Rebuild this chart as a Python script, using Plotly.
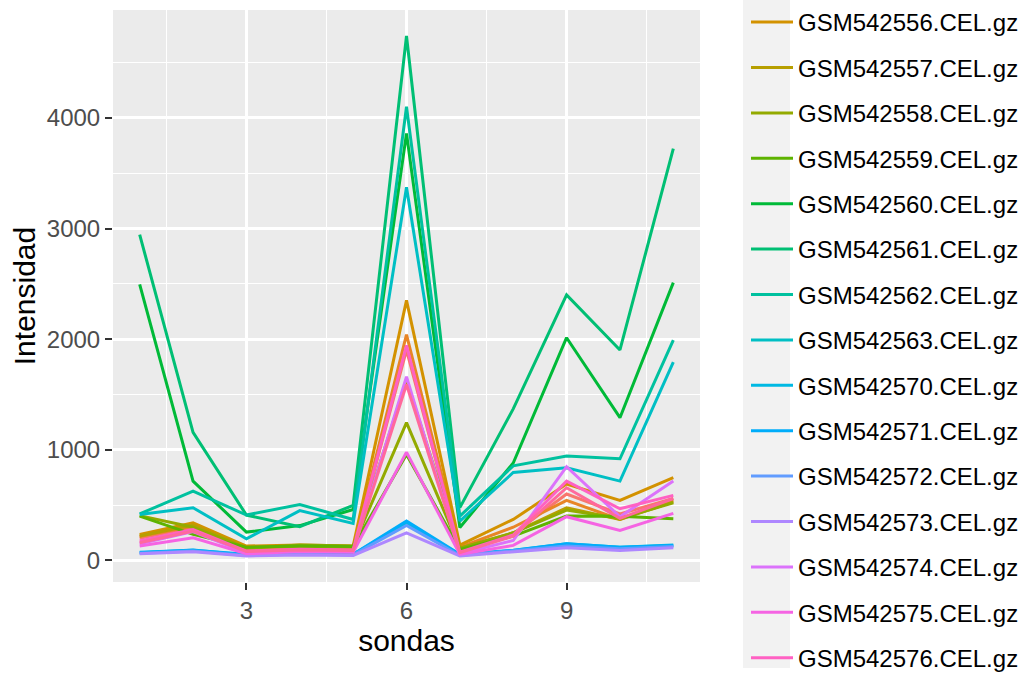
import math
import plotly.graph_objects as go

# ---- data ----
sondas = [1, 2, 3, 4, 5, 6, 7, 8, 9, 10, 11]

muestras = [
    "GSM542554.CEL.gz", "GSM542555.CEL.gz", "GSM542556.CEL.gz", "GSM542557.CEL.gz",
    "GSM542558.CEL.gz", "GSM542559.CEL.gz", "GSM542560.CEL.gz", "GSM542561.CEL.gz",
    "GSM542562.CEL.gz", "GSM542563.CEL.gz", "GSM542570.CEL.gz", "GSM542571.CEL.gz",
    "GSM542572.CEL.gz", "GSM542573.CEL.gz", "GSM542574.CEL.gz", "GSM542575.CEL.gz",
    "GSM542576.CEL.gz", "GSM542577.CEL.gz",
]

# legend entries that fall outside the visible legend area in the reference
fuera_de_leyenda = ["GSM542554.CEL.gz", "GSM542555.CEL.gz", "GSM542577.CEL.gz"]

GSM542554 = [200, 300, 95, 110, 100, 1900, 85, 240, 600, 420, 560]
GSM542555 = [215, 310, 100, 120, 110, 2040, 120, 300, 542, 370, 545]
GSM542556 = [235, 340, 130, 140, 130, 2350, 139, 371, 690, 542, 748]
GSM542557 = [220, 320, 115, 130, 120, 1630, 110, 250, 476, 370, 530]
GSM542558 = [405, 300, 110, 140, 130, 1245, 110, 250, 455, 380, 520]
GSM542559 = [400, 235, 120, 130, 125, 958, 100, 220, 401, 400, 377]
GSM542560 = [2495, 717, 256, 315, 460, 3860, 298, 880, 2013, 1290, 2511]
GSM542561 = [2945, 1157, 410, 305, 497, 4740, 477, 1370, 2400, 1902, 3722]
GSM542562 = [420, 627, 410, 506, 370, 4100, 400, 855, 943, 919, 1992]
GSM542563 = [415, 476, 195, 450, 335, 3372, 356, 795, 838, 717, 1793]
GSM542570 = [70, 95, 50, 60, 55, 340, 50, 90, 150, 120, 140]
GSM542571 = [75, 93, 55, 65, 55, 356, 55, 93, 151, 120, 136]
GSM542572 = [65, 85, 45, 55, 50, 316, 45, 85, 130, 105, 125]
GSM542573 = [60, 78, 40, 50, 45, 250, 40, 75, 115, 90, 115]
GSM542574 = [150, 260, 70, 90, 85, 1660, 60, 180, 847, 395, 717]
GSM542575 = [130, 205, 60, 80, 75, 979, 55, 136, 395, 271, 425]
GSM542576 = [175, 280, 85, 100, 95, 1944, 75, 230, 717, 467, 588]
GSM542577 = [160, 265, 80, 95, 90, 1590, 70, 220, 657, 380, 560]

intensidades = [
    GSM542554, GSM542555, GSM542556, GSM542557, GSM542558, GSM542559,
    GSM542560, GSM542561, GSM542562, GSM542563, GSM542570, GSM542571,
    GSM542572, GSM542573, GSM542574, GSM542575, GSM542576, GSM542577,
]


# ---- ggplot-like hue palette ----
def hcl_hex(h, c=100.0, l=65.0):
    xn, yn, zn = 95.047, 100.0, 108.883
    un = 4 * xn / (xn + 15 * yn + 3 * zn)
    vn = 9 * yn / (xn + 15 * yn + 3 * zn)
    hr = math.radians(h)
    u, v = c * math.cos(hr), c * math.sin(hr)
    y = yn * ((l + 16) / 116) ** 3 if l > 8 else yn * l / 903.3
    up = u / (13 * l) + un
    vp = v / (13 * l) + vn
    x = 9.0 * y * up / (4 * vp)
    z = -x / 3 - 5 * y + 3 * y / vp
    x, y, z = x / 100, y / 100, z / 100
    r = 3.240479 * x - 1.537150 * y - 0.498535 * z
    g = -0.969256 * x + 1.875992 * y + 0.041556 * z
    b = 0.055648 * x - 0.204043 * y + 1.057311 * z

    def gam(t):
        t = 1.055 * t ** (1 / 2.4) - 0.055 if t > 0.0031308 else 12.92 * t
        return int(round(min(max(t, 0), 1) * 255))

    return "#%02X%02X%02X" % (gam(r), gam(g), gam(b))


n = len(muestras)
colores = [hcl_hex(15 + 360 * i / n) for i in range(n)]

fig = go.Figure()
for nombre, vals, col in zip(muestras, intensidades, colores):
    fig.add_trace(go.Scatter(
        x=sondas, y=vals, mode="lines", name=nombre, legendgroup=nombre,
        showlegend=nombre not in fuera_de_leyenda,
        line=dict(color=col, width=3),
    ))

allv = [v for s in intensidades for v in s]
lo, hi = min(allv), max(allv)
pad = 0.05 * (hi - lo)

font = "Liberation Sans, Arial, sans-serif"
W, H = 1029, 674
L, R, T, B = 113, 700, 10, 582

fig.update_layout(
    width=W, height=H,
    margin=dict(l=L, r=W - R, t=T, b=H - B, pad=0),
    paper_bgcolor="white",
    plot_bgcolor="#EBEBEB",
    font=dict(family=font, size=24, color="black"),
    showlegend=True,
    legend=dict(
        xref="container", yref="container",
        x=746 / W, y=1.0, xanchor="left", yanchor="top",
        bgcolor="rgba(0,0,0,0)", font=dict(size=24, color="black"),
        tracegroupgap=11.2, itemwidth=42, maxheight=2000,
    ),
    xaxis=dict(
        range=[0.5, 11.5], tick0=0, dtick=3,
        showgrid=True, gridcolor="white", gridwidth=2.6,
        minor=dict(dtick=1.5, showgrid=True, gridcolor="white", gridwidth=1.3),
        zeroline=False, showline=False,
        ticks="outside", ticklen=7, tickwidth=2.4, tickcolor="#333333",
        tickfont=dict(size=24, color="#4D4D4D"),
        title=dict(text="sondas", font=dict(size=30, color="black"), standoff=0),
    ),
    yaxis=dict(
        range=[lo - pad, hi + pad], tick0=0, dtick=1000,
        showgrid=True, gridcolor="white", gridwidth=2.6,
        minor=dict(dtick=500, showgrid=True, gridcolor="white", gridwidth=1.3),
        zeroline=False, showline=False,
        ticks="outside", ticklen=7, tickwidth=2.4, tickcolor="#333333",
        tickfont=dict(size=24, color="#4D4D4D"),
        title=dict(text="Intensidad", font=dict(size=30, color="black"), standoff=2),
    ),
    shapes=[dict(
        type="rect", xref="paper", yref="paper", layer="below",
        x0=(743 - L) / (R - L), x1=(790 - L) / (R - L),
        y0=(B - 668) / (B - T), y1=(B + 5) / (B - T),
        fillcolor="#F2F2F2", line=dict(width=0),
    )],
)

fig.write_html("out.html")
